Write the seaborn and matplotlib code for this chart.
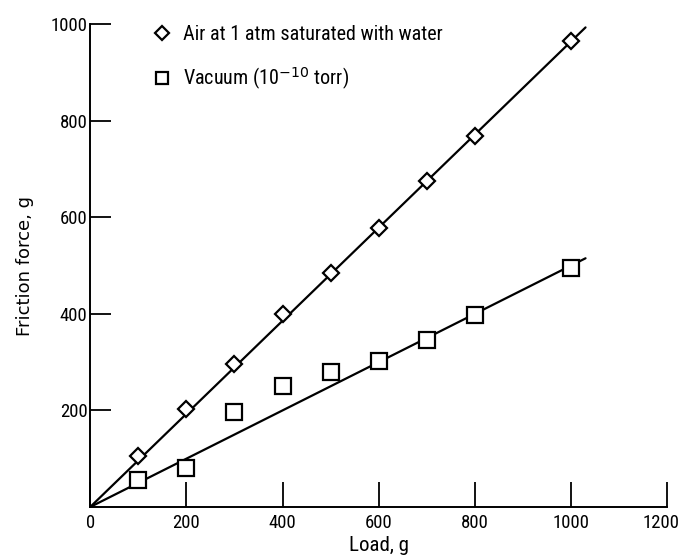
import numpy as np
import pandas as pd
import matplotlib
matplotlib.use("Agg")
import matplotlib.pyplot as plt
import matplotlib.transforms as mtransforms
import seaborn as sns

# data
load = [100, 200, 300, 400, 500, 600, 700, 800, 1000]
air_friction = [105, 202, 297, 400, 485, 577, 675, 768, 965]
vac_friction = [55, 80, 197, 250, 280, 302, 345, 397, 495]

# faired lines through the origin
fit_load = [0, 1030]
air_fit = [0, 993]
vac_fit = [0, 515]

x_ticks = [0, 200, 400, 600, 800, 1000, 1200]
y_ticks = [200, 400, 600, 800, 1000]

sns.set_style("ticks")
plt.rcParams['font.family'] = ['Roboto Condensed', 'DejaVu Sans']
plt.rcParams['text.color'] = 'black'
plt.rcParams['axes.labelcolor'] = 'black'
plt.rcParams['xtick.color'] = 'black'
plt.rcParams['ytick.color'] = 'black'

fig = plt.figure(figsize=(6.83, 5.59), dpi=100)
ax = fig.add_axes([0.132, 0.093, 0.845, 0.864])

air = pd.DataFrame({"load": load, "friction": air_friction})
vac = pd.DataFrame({"load": load, "friction": vac_friction})

sns.lineplot(x=fit_load, y=air_fit, ax=ax, color="black", lw=1.6, zorder=1)
sns.lineplot(x=fit_load, y=vac_fit, ax=ax, color="black", lw=1.6, zorder=1)

ax.plot(air["load"], air["friction"], ls="none", marker="D", ms=8.5,
        mfc="white", mec="black", mew=1.6, zorder=3,
        label="Air at 1 atm saturated with water")
ax.plot(vac["load"], vac["friction"], ls="none", marker="s", ms=11,
        mfc="white", mec="black", mew=1.6, zorder=3,
        label="Vacuum (10$^{-10}$ torr)")

ax.set_xlim(0, 1200)
ax.set_ylim(0, 1000)
ax.set_xticks(x_ticks)
ax.set_yticks(y_ticks)
ax.tick_params(axis="x", direction="in", length=18, width=1.3, labelsize=13.5, pad=5)
ax.tick_params(axis="y", direction="in", length=15, width=1.3, labelsize=13.5, pad=2)
for s in ["top", "right"]:
    ax.spines[s].set_visible(False)
for s in ["left", "bottom"]:
    ax.spines[s].set_linewidth(1.4)
    ax.spines[s].set_color("black")

# nudge the last x label in so it stays inside the figure
last = ax.get_xticklabels()[-1]
last.set_transform(last.get_transform() +
                   mtransforms.ScaledTranslation(-6 / 100, 0, fig.dpi_scale_trans))

ax.set_xlabel("Load, g", fontsize=15, labelpad=3)
ax.set_ylabel("Friction force, g", fontsize=13, labelpad=12,
              family=['DejaVu Sans'])

leg = ax.legend(loc="upper left", bbox_to_anchor=(0.075, 1.035), frameon=False,
                fontsize=14.5, handletextpad=0.55, labelspacing=1.05,
                handlelength=1.0, markerscale=0.85)

fig.savefig("out.png", dpi=100)
